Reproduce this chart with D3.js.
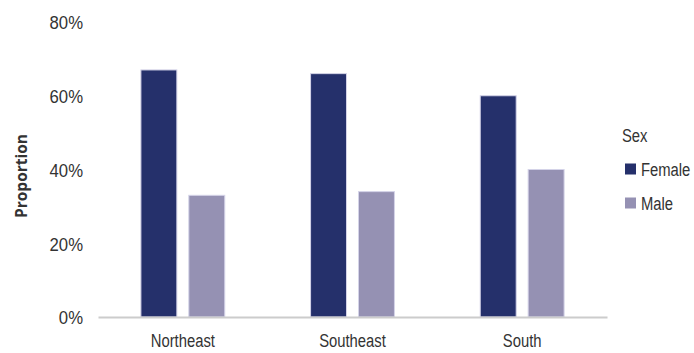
<!DOCTYPE html>
<html>
<head>
<meta charset="utf-8">
<script src="https://cdn.jsdelivr.net/npm/d3@7"></script>
<style>
  html, body { margin: 0; padding: 0; background: #fff; }
  svg text { fill: #333; }
</style>
</head>
<body>
<svg id="chart" width="694" height="353"></svg>
<script>
// Share of each sex by region
const regions = ["Northeast", "Southeast", "South"];
const sexes = ["Female", "Male"];
const female = [0.67, 0.66, 0.60];
const male = [0.33, 0.34, 0.40];
const yTicks = [0, 0.2, 0.4, 0.6, 0.8];
const colors = ["#25306b", "#9591b3"];

const rows = regions.map((r, i) => ({ region: r, values: [female[i], male[i]] }));

const svg = d3.select("#chart");
const W = 694;
const margin = { left: 98, right: 87, top: 22 };
const plotRight = W - margin.right;
const baseY = 317;

// Condensed look: regular sans squeezed horizontally
const FONT = "'Liberation Sans', Arial, sans-serif";
const FS = 19;
const wordScale = "scale(0.78,1)";
const numScale = "scale(0.88,1)";

const x0 = d3.scaleBand().domain(regions).range([margin.left, plotRight]);
const x1 = d3.scaleBand().domain(sexes).range([0, x0.bandwidth()]).paddingInner(0.229).paddingOuter(0.885);
const y = d3.scaleLinear().domain([0, 0.8]).range([baseY, margin.top]);
const color = d3.scaleOrdinal().domain(sexes).range(colors);

// Y axis: labels only
const yAxis = d3.axisLeft(y).tickValues(yTicks).tickFormat(d3.format(".0%")).tickSize(0).tickPadding(0);
const gy = svg.append("g").attr("transform", `translate(83,0)`).call(yAxis);
gy.select(".domain").remove();
gy.selectAll("text")
  .attr("font-family", FONT).attr("font-size", FS).attr("fill", "#333")
  .attr("dy", "0.36em").attr("transform", numScale);

// Bars
const groups = svg.append("g").selectAll("g").data(rows).join("g")
  .attr("transform", d => `translate(${x0(d.region)},0)`);
groups.selectAll("rect").data(d => d.values.map((v, i) => ({ key: sexes[i], value: v })))
  .join("rect")
  .attr("x", d => x1(d.key) + 0.5)
  .attr("y", d => y(d.value))
  .attr("width", x1.bandwidth() - 1)
  .attr("height", d => baseY - y(d.value))
  .attr("fill", d => color(d.key))
  .attr("stroke", "#d4d3e8")
  .attr("stroke-width", 1);

// X axis
const xAxis = d3.axisBottom(x0).tickSize(0).tickPadding(17);
const gx = svg.append("g").attr("transform", `translate(0,${baseY})`).call(xAxis);
gx.select(".domain").attr("stroke", "#cccccc").attr("stroke-width", 2);
gx.selectAll("text")
  .attr("font-family", FONT).attr("font-size", FS).attr("fill", "#333")
  .attr("transform", wordScale);

// Y axis title
svg.append("text")
  .attr("transform", `translate(27,176) rotate(-90)`)
  .attr("text-anchor", "middle")
  .attr("font-family", "'Open Sans', sans-serif")
  .attr("font-weight", "bold")
  .attr("font-size", 15.5)
  .text("Proportion");

// Legend
const lg = svg.append("g").attr("transform", "translate(622,0)");
lg.append("g").attr("transform", "translate(0,135)")
  .append("text").attr("dy", "0.36em")
  .attr("font-family", FONT).attr("font-size", FS)
  .attr("transform", wordScale).text("Sex");
const items = lg.selectAll("g.item").data(sexes).join("g").attr("class", "item")
  .attr("transform", (d, i) => `translate(0,${169 + i * 34})`);
items.append("rect").attr("x", 3).attr("y", -5.5).attr("width", 11).attr("height", 11)
  .attr("fill", d => color(d));
items.append("g").attr("transform", "translate(19,0)")
  .append("text").attr("dy", "0.36em")
  .attr("font-family", FONT).attr("font-size", FS)
  .attr("transform", wordScale).text(d => d);
</script>
</body>
</html>
